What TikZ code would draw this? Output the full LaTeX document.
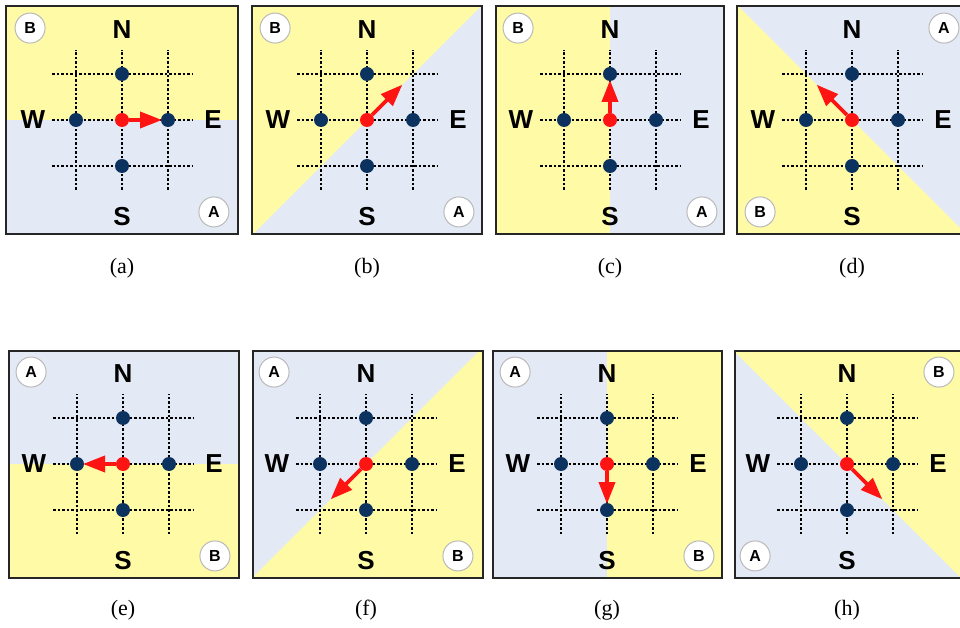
\documentclass[tikz,border=0pt]{standalone}
\usepackage{fontspec}
\setmainfont{Liberation Serif}
\newfontfamily\labfont{Liberation Sans}
\usetikzlibrary{arrows.meta}
\definecolor{ylw}{RGB}{255,250,165}
\definecolor{blu}{RGB}{228,234,245}
\definecolor{navy}{RGB}{12,50,95}
\definecolor{rd}{RGB}{255,20,20}
\tikzset{
 gridline/.style={black, line width=1.4pt, dash pattern=on 2.5pt off 2pt},
 dot/.style={circle, fill=navy, inner sep=0pt, minimum size=14pt},
 rdot/.style={circle, fill=rd, inner sep=0pt, minimum size=14pt},
 dirlabel/.style={font=\labfont\bfseries\fontsize{26}{26}\selectfont, inner sep=0pt},
 badge/.style={circle, fill=white, draw=gray!55, line width=1pt, minimum size=30pt, inner sep=0pt, font=\labfont\bfseries\fontsize{16}{16}\selectfont},
 frame/.style={draw=black!85, line width=2pt},
 arr/.style={draw=rd, line width=3.8pt, -{Triangle[length=22pt,width=16pt]}},
 caption/.style={font=\fontsize{22}{22}\selectfont, inner sep=0pt},
}
\begin{document}
\begin{tikzpicture}[x=1pt,y=1pt]
\useasboundingbox (0,0) rectangle (960,627);
\clip (0,0) rectangle (960,627);
\fill[white] (0,0) rectangle (960,627);
\foreach \cx/\cy/\xl/\xr/\yt/\yb/\th/\pb/\L/\cp/\capy in {
 122/507/6/238/621/393/0/135/40/a/359,
 367/507/252/482/621/393/45/135/50/b/359,
 610/507/496/724/621/393/90/135/40/c/359,
 852/507/737/967/621/393/135/225/50/d/359,
 123/163/9/239/276/49/180/315/40/e/17,
 366/163/253/483/276/49/225/315/50/f/17,
 607/163/493/722/276/49/270/315/40/g/17,
 847/163/735/962/276/49/315/45/50/h/17}{
 \begin{scope}
   \clip (\xl,\yb) rectangle (\xr,\yt);
   \fill[blu] (\xl,\yb) rectangle (\xr,\yt);
   \begin{scope}[shift={(\cx,\cy)}, rotate=\th]
     \fill[ylw] (-300,0) rectangle (300,300);
   \end{scope}
 \end{scope}
 \draw[frame] (\xl,\yb) rectangle (\xr,\yt);
 \foreach \k in {-46,0,46}{
   \draw[gridline] (\cx+\k,\cy-70) -- (\cx+\k,\cy+70);
   \draw[gridline] (\cx-70,\cy+\k) -- (\cx+70,\cy+\k);
 }
 \node[dot] (n\cp) at (\cx,\cy+46) {};
 \node[dot] (s\cp) at (\cx,\cy-46) {};
 \node[dot] (w\cp) at (\cx-46,\cy) {};
 \node[dot] (e\cp) at (\cx+46,\cy) {};
 \node[rdot] (r\cp) at (\cx,\cy) {};
 \coordinate (t\cp) at ([shift={(\th:\L)}]\cx,\cy);
 \draw[arr] (r\cp) -- (t\cp);
 \node[dirlabel] (N\cp) at (\cx,\cy+90) {N};
 \node[dirlabel] (S\cp) at (\cx,\cy-97) {S};
 \node[dirlabel] (W\cp) at (\cx-89,\cy) {W};
 \node[dirlabel] (E\cp) at (\cx+91,\cy) {E};
 \node[badge] (B\cp) at ([shift={(\pb:130)}]\cx,\cy) {B};
 \node[badge] (A\cp) at ([shift={(\pb+180:130)}]\cx,\cy) {A};
 \node[caption] (cap\cp) at (\cx,\capy) {(\cp)};
}
\end{tikzpicture}
\end{document}
